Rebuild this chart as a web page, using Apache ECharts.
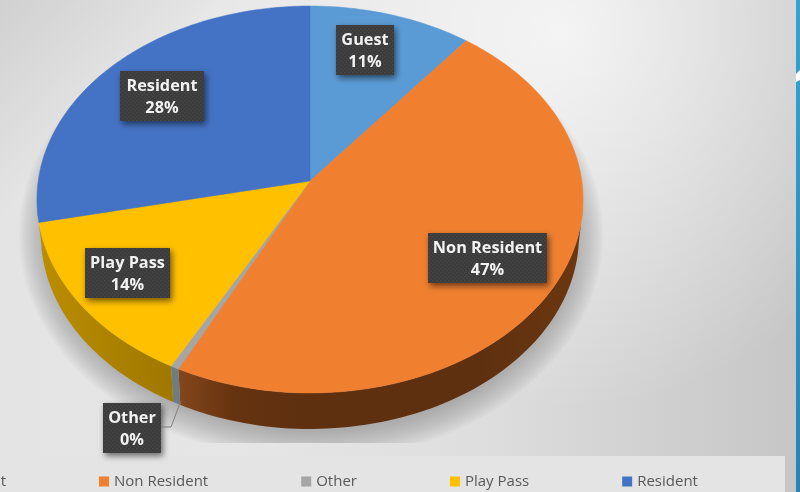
<!DOCTYPE html>
<html>
<head>
<meta charset="utf-8">
<style>html,body{margin:0;padding:0;background:#e0e0e0}#c{width:800px;height:492px}</style>
<script src="https://cdn.jsdelivr.net/npm/echarts@6/dist/echarts.min.js"></script>
</head>
<body>
<div id="c"></div>
<script>
const categories = ['Guest', 'Non Resident', 'Other', 'Play Pass', 'Resident'];
const values = [10.6, 46.7, 0.45, 13.85, 28.4];
const colors = ['#5b9bd5', '#f07f2f', '#a5a5a5', '#ffc000', '#4472c4'];
const wallColors = [
  ['#3f6f99', '#3f6f99'],
  ['#84461c', '#65330f', '#5f3010', '#5f3010', '#6b370f'],
  ['#6f7c80', '#6f7c80'],
  ['#bb8d00', '#a07800'],
  ['#2f5088', '#2f5088']
];
const labelCenters = [[365, 50], [487.5, 258], [132, 428], [127.5, 273], [162, 96]];
const labelWidths = [58, 119, 58, 85, 84];

const G = { cx: 310, cy: 181, A: 271.8, B: 191.7, k: 0.0956, depth: 36, shrink: 0.985, frontFrom: 98, frontTo: 262 };
function project(deg) {
  const a = deg * Math.PI / 180, u = Math.sin(a), v = Math.cos(a), d = 1 + G.k * v;
  return [G.cx + G.A * u / d, G.cy - G.B * v / d];
}
function lower(p) { return [G.cx + (p[0] - G.cx) * G.shrink, p[1] + G.depth]; }
function arc(from, to) {
  const n = Math.max(2, Math.ceil(Math.abs(to - from) / 1.5)), pts = [];
  for (let i = 0; i <= n; i++) pts.push(project(from + (to - from) * i / n));
  return pts;
}
const total = values.reduce((s, x) => s + x, 0);
const starts = values.map((_, i) => values.slice(0, i).reduce((s, x) => s + x, 0) / total * 360);

const dots = document.createElement('canvas');
dots.width = dots.height = 4;
(function () {
  const c = dots.getContext('2d');
  c.fillStyle = '#3b3b3b'; c.fillRect(0, 0, 4, 4);
  c.fillStyle = '#484848'; c.fillRect(0, 0, 1.5, 1.5); c.fillRect(2, 2, 1.5, 1.5);
})();

function renderer(i) {
  return function (params, api) {
    const from = starts[i], to = from + api.value(0) / total * 360;
    const children = [];
    const wFrom = Math.max(from, G.frontFrom), wTo = Math.min(to, G.frontTo);
    if (wTo > wFrom) {
      const rim = arc(wFrom, wTo);
      const n = wallColors[i].length;
      const offs = n === 5 ? [0, 0.14, 0.3, 0.75, 1] : wallColors[i].map((_, j) => j / (n - 1));
      const stops = wallColors[i].map((c, j) => ({ offset: offs[j], color: c }));
      children.push({
        type: 'polygon', z2: 1,
        shape: { points: rim.concat(rim.map(lower).reverse()) },
        style: { fill: { type: 'linear', x: 0, y: 0, x2: 1, y2: 0, colorStops: stops } }
      });
    }
    children.push({
      type: 'polygon', z2: 2,
      shape: { points: [[G.cx, G.cy]].concat(arc(from, to)) },
      style: { fill: colors[i], stroke: colors[i], lineWidth: 0.5 }
    });
    const c = labelCenters[i], w = labelWidths[i], h = 50;
    children.push({
      type: 'rect', z2: 10,
      shape: { x: c[0] - w / 2, y: c[1] - h / 2, width: w, height: h },
      style: { fill: { image: dots, repeat: 'repeat' }, shadowBlur: 6, shadowOffsetX: 2, shadowOffsetY: 3, shadowColor: 'rgba(0,0,0,0.55)' }
    });
    children.push({
      type: 'text', z2: 11,
      style: {
        x: c[0], y: c[1] + 1, align: 'center', verticalAlign: 'middle',
        text: categories[i] + '\n' + Math.round(api.value(0) / total * 100) + '%',
        fill: '#f2f2f2', fontFamily: 'Open Sans', fontWeight: 700, fontSize: 16.3, lineHeight: 22
      }
    });
    return { type: 'group', children };
  };
}

const hStops = [
  { offset: 0, color: '#e4e4e4' }, { offset: 0.3, color: '#e6e6e6' }, { offset: 0.6, color: '#dedede' }, { offset: 1, color: '#c6c6c6' }
];
const hFill = { type: 'linear', global: true, x: 0, y: 0, x2: 796, y2: 0, colorStops: hStops };

const shadowRings = [];
for (let s = 0; s <= 14; s++) {
  shadowRings.push({
    type: 'ellipse', z: -7,
    shape: { cx: 311, cy: 235, rx: 292 - s * 2, ry: 225 - s * 2 },
    style: { fill: 'rgba(130,130,130,0.05)' }
  });
}

const chart = echarts.init(document.getElementById('c'), null, { renderer: 'canvas' });
chart.setOption({
  animation: false,
  backgroundColor: '#e0e0e0',
  legend: {
    left: -55, top: 469, icon: 'rect', itemWidth: 10, itemHeight: 10, itemGap: 93,
    data: categories, selectedMode: false,
    textStyle: { color: '#595959', fontFamily: 'Open Sans', fontSize: 15 }
  },
  graphic: { elements: [
    { type: 'rect', z: -10, shape: { x: 0, y: 0, width: 800, height: 492 }, style: { fill: hFill } },
    { type: 'rect', z: -9, shape: { x: 0, y: 0, width: 800, height: 492 },
      style: { fill: { type: 'radial', global: true, x: 560, y: 30, r: 380, colorStops: [
        { offset: 0, color: 'rgba(255,255,255,0.72)' }, { offset: 1, color: 'rgba(255,255,255,0)' } ] } } },
    { type: 'rect', z: -8, shape: { x: 0, y: 0, width: 800, height: 492 },
      style: { fill: { type: 'linear', global: true, x: 0, y: 0, x2: 110, y2: 110, colorStops: [
        { offset: 0, color: 'rgba(200,200,200,0.7)' }, { offset: 1, color: 'rgba(200,200,200,0)' } ] } } }
  ].concat(shadowRings, [
    { type: 'rect', z: -6, shape: { x: 0, y: 443, width: 796, height: 13 }, style: { fill: hFill } },
    { type: 'rect', z: -5, shape: { x: 0, y: 456, width: 785, height: 36 }, style: { fill: '#e4e4e4' } },
    { type: 'rect', z: -5, shape: { x: 796, y: 0, width: 4, height: 492 },
      style: { fill: { type: 'linear', x: 0, y: 0, x2: 0, y2: 1, colorStops: [
        { offset: 0, color: '#36a2cf' }, { offset: 1, color: '#2a82b5' } ] } } },
    { type: 'polygon', z: -4, shape: { points: [[796, 74], [800, 70], [800, 80], [796, 82]] }, style: { fill: '#ffffff' } },
    { type: 'polyline', z: 6, shape: { points: [[161, 427], [171, 427], [180, 403]] },
      style: { stroke: '#7f7f7f', lineWidth: 1, fill: 'none' } }
  ]) },
  series: categories.map((name, i) => ({
    type: 'custom', name, coordinateSystem: 'none', silent: true,
    itemStyle: { color: colors[i] },
    data: [[values[i]]],
    renderItem: renderer(i)
  }))
});
</script>
</body>
</html>
